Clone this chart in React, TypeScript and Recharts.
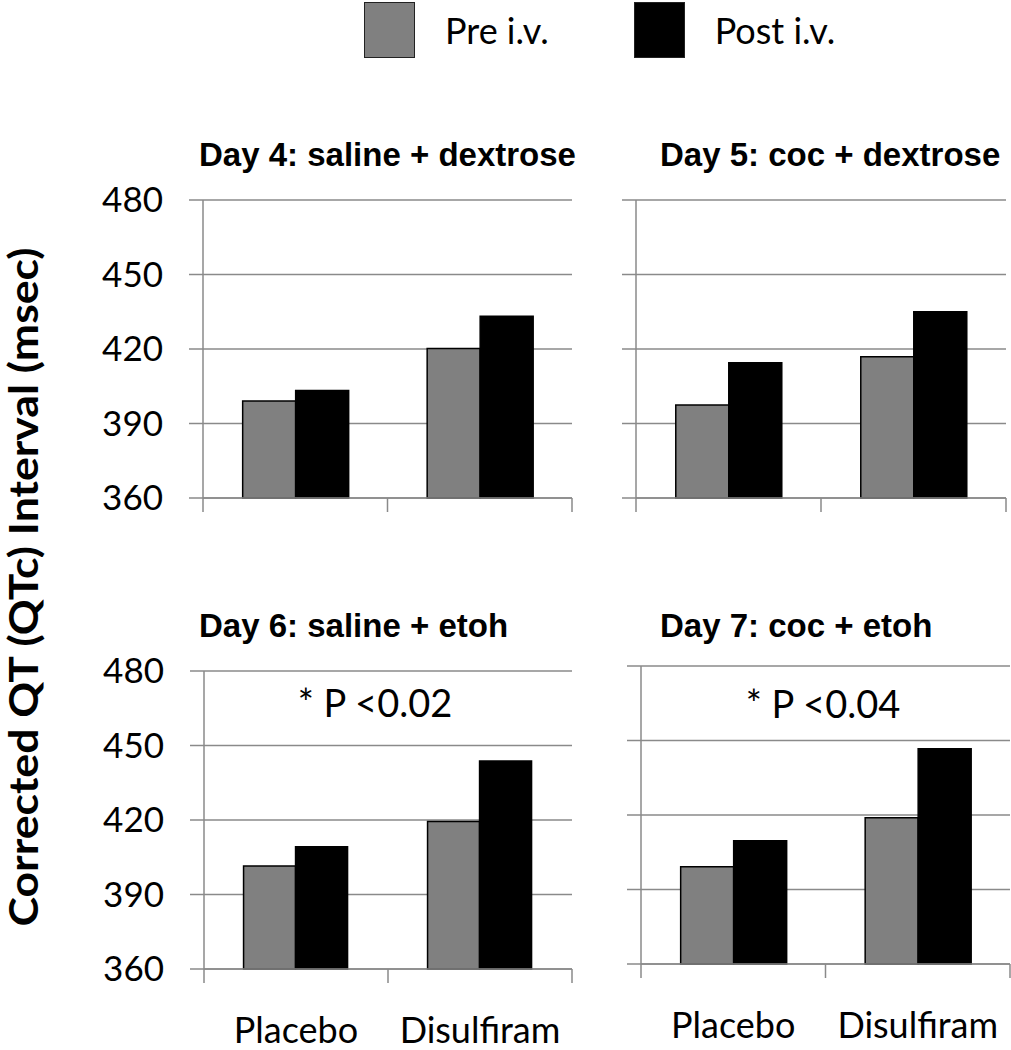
import { BarChart, Bar, XAxis, YAxis, CartesianGrid } from 'recharts';

const categories = ['Placebo', 'Disulfiram'];
const yTicks = [360, 390, 420, 450, 480];
const seriesNames = ['Pre i.v.', 'Post i.v.'];
const seriesFills = ['#808080', '#000000'];

const day4Pre = [399.1, 420.2];
const day4Post = [403.3, 433.2];
const day5Pre = [397.5, 416.9];
const day5Post = [414.5, 435.0];
const day6Pre = [401.5, 419.4];
const day6Post = [409.2, 443.8];
const day7Pre = [399.2, 418.9];
const day7Post = [409.6, 446.7];

const titles = ['Day 4: saline + dextrose', 'Day 5: coc + dextrose', 'Day 6: saline + etoh', 'Day 7: coc + etoh'];
const pLabels = ['', '', '* P <0.02', '* P <0.04'];
const yLabel = 'Corrected QT (QTc) Interval (msec)';

const GRID = '#8a8a8a';
const NUM_FONT = 'Lato, "Open Sans", sans-serif';
const TITLE_FONT = '"Liberation Sans", Arial, sans-serif';

const toRows = (pre: number[], post: number[]) =>
  categories.map((name, i) => ({ name, pre: pre[i], post: post[i] }));

type Panel = {
  data: { name: string; pre: number; post: number }[];
  left: number;
  top: number;
  width: number;
  height: number;
  margin: { top: number; right: number; left: number; bottom: number };
  yWidth: number;
  showY: boolean;
  showX: boolean;
  xHeight: number;
};

const panels: Panel[] = [
  { data: toRows(day4Pre, day4Post), left: 0, top: 170, width: 590, height: 370, margin: { top: 30, right: 18, left: 0, bottom: 12 }, yWidth: 203, showY: true, showX: false, xHeight: 30 },
  { data: toRows(day5Pre, day5Post), left: 600, top: 170, width: 411, height: 370, margin: { top: 30, right: 5, left: 0, bottom: 12 }, yWidth: 36, showY: false, showX: false, xHeight: 30 },
  { data: toRows(day6Pre, day6Post), left: 0, top: 640, width: 590, height: 410, margin: { top: 31, right: 18, left: 0, bottom: 0 }, yWidth: 204, showY: true, showX: true, xHeight: 81 },
  { data: toRows(day7Pre, day7Post), left: 600, top: 640, width: 411, height: 410, margin: { top: 26, right: 1, left: 0, bottom: 0 }, yWidth: 41, showY: false, showX: true, xHeight: 86 },
];

function BoundaryTick(props: any) {
  const { x, y, payload, index, halfBand, showLabel } = props;
  const off = payload && payload.offset ? payload.offset : halfBand;
  return (
    <g>
      <line x1={x - off} x2={x - off} y1={y} y2={y + 14} stroke={GRID} strokeWidth={1.5} />
      {index === categories.length - 1 && (
        <line x1={x + off} x2={x + off} y1={y} y2={y + 14} stroke={GRID} strokeWidth={1.5} />
      )}
      {showLabel && (
        <text x={x} y={y + 48} dy="0.71em" textAnchor="middle" fill="#000" fontSize={36} fontFamily={NUM_FONT}>
          {payload.value}
        </text>
      )}
    </g>
  );
}

function PanelChart({ p }: { p: Panel }) {
  const plotW = p.width - p.margin.left - p.margin.right - p.yWidth;
  const halfBand = plotW / categories.length / 2;
  return (
    <div style={{ position: 'absolute', left: p.left, top: p.top }}>
      <BarChart width={p.width} height={p.height} data={p.data} margin={p.margin} barCategoryGap="21.5%" barGap={0}>
        <CartesianGrid vertical={false} stroke={GRID} strokeWidth={1.5} />
        <XAxis
          dataKey="name"
          height={p.xHeight}
          axisLine={{ stroke: GRID, strokeWidth: 1.5 }}
          tickLine={false}
          tickSize={0}
          tickMargin={0}
          interval={0}
          tick={(tp: any) => <BoundaryTick {...tp} halfBand={halfBand} showLabel={p.showX} />}
        />
        <YAxis
          domain={[360, 480]}
          ticks={yTicks}
          width={p.yWidth}
          axisLine={{ stroke: GRID, strokeWidth: 1.5 }}
          tickLine={{ stroke: GRID, strokeWidth: 1.5 }}
          tickSize={14}
          tickMargin={26}
          tickFormatter={(v: number) => (p.showY ? String(v) : '')}
          tick={{ fill: '#000', fontSize: 35, fontFamily: NUM_FONT }}
        />
        <Bar dataKey="pre" name={seriesNames[0]} fill={seriesFills[0]} stroke="#000" strokeWidth={1.5} isAnimationActive={false} />
        <Bar dataKey="post" name={seriesNames[1]} fill={seriesFills[1]} stroke="#000" strokeWidth={1.5} isAnimationActive={false} />
      </BarChart>
    </div>
  );
}

export default function App() {
  return (
    <div style={{ position: 'absolute', left: 0, top: 0, width: 1011, height: 1050, background: '#fff', overflow: 'hidden' }}>
      {/* legend */}
      <div style={{ position: 'absolute', left: 364, top: 2, display: 'flex', alignItems: 'center', fontFamily: NUM_FONT, fontSize: 36 }}>
        {seriesNames.map((n, i) => (
          <div key={n} style={{ display: 'flex', alignItems: 'center', marginRight: i === 0 ? 85 : 0 }}>
            <div style={{ width: 49, height: 54, background: seriesFills[i], border: '1.5px solid #222' }} />
            <span style={{ marginLeft: 30, lineHeight: '56px' }}>{n}</span>
          </div>
        ))}
      </div>

      {panels.map((p, i) => (
        <PanelChart key={i} p={p} />
      ))}

      <svg width={1011} height={1050} style={{ position: 'absolute', left: 0, top: 0, pointerEvents: 'none' }}>
        <text x={199} y={166} fontFamily={TITLE_FONT} fontWeight="bold" fontSize={33} fill="#000">{titles[0]}</text>
        <text x={660} y={166} fontFamily={TITLE_FONT} fontWeight="bold" fontSize={33} fill="#000">{titles[1]}</text>
        <text x={199} y={637} fontFamily={TITLE_FONT} fontWeight="bold" fontSize={33} fill="#000">{titles[2]}</text>
        <text x={660} y={637} fontFamily={TITLE_FONT} fontWeight="bold" fontSize={33} fill="#000">{titles[3]}</text>
        <text x={375} y={717} textAnchor="middle" fontFamily={NUM_FONT} fontSize={38} fill="#000">{pLabels[2]}</text>
        <text x={823} y={718} textAnchor="middle" fontFamily={NUM_FONT} fontSize={38} fill="#000">{pLabels[3]}</text>
        <text
          x={38}
          y={587}
          transform="rotate(-90, 38, 587)"
          textAnchor="middle"
          textLength={679}
          lengthAdjust="spacingAndGlyphs"
          fontFamily={NUM_FONT}
          fontWeight="bold"
          fontSize={40}
          fill="#000"
        >
          {yLabel}
        </text>
      </svg>
    </div>
  );
}
